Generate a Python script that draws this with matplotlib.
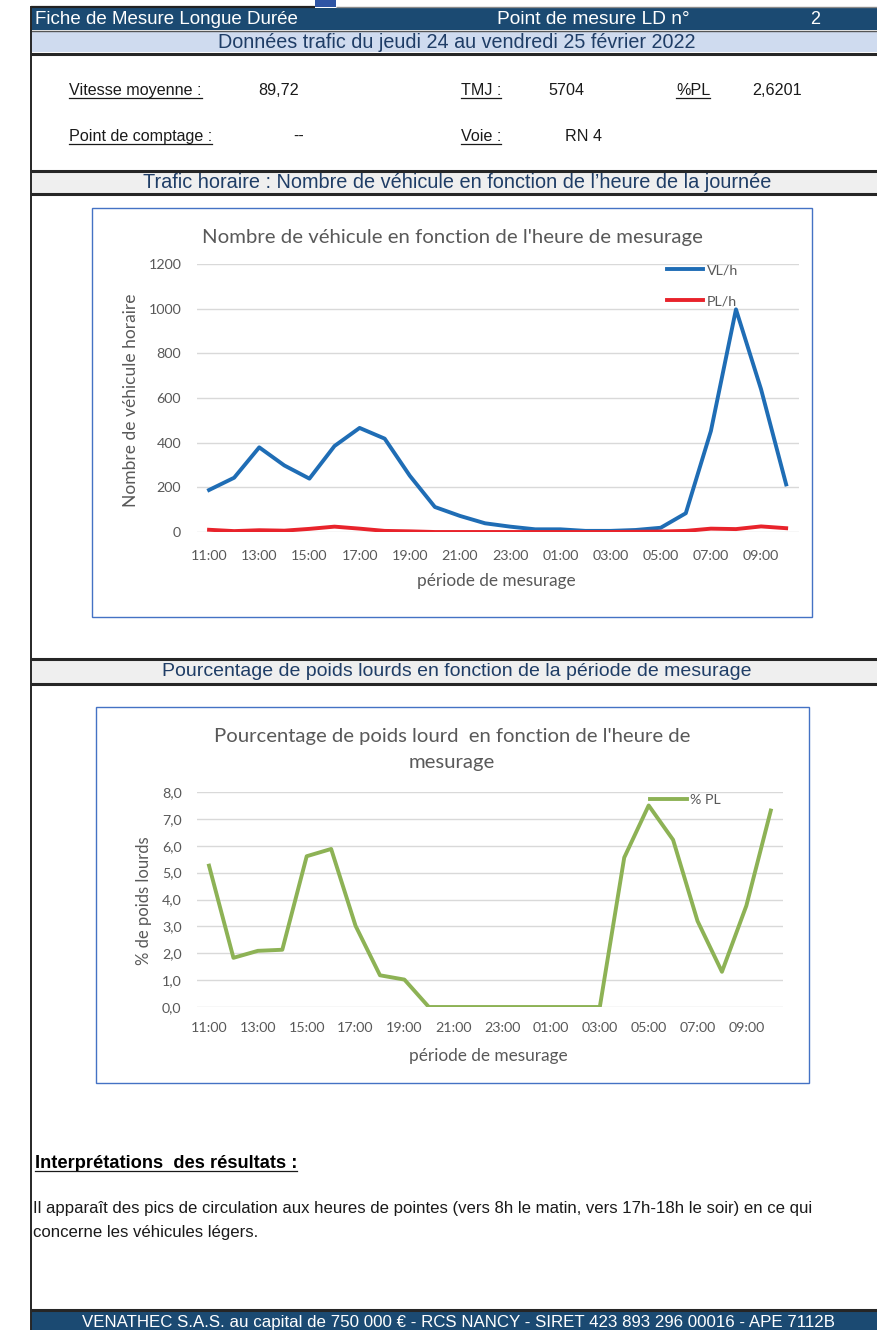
import matplotlib
matplotlib.use("Agg")
import matplotlib.pyplot as plt
from matplotlib.patches import Rectangle
from matplotlib.ticker import FuncFormatter, FixedLocator

# ---------------------------------------------------------------- data
hours = ["11:00", "12:00", "13:00", "14:00", "15:00", "16:00", "17:00", "18:00",
         "19:00", "20:00", "21:00", "22:00", "23:00", "00:00", "01:00", "02:00",
         "03:00", "04:00", "05:00", "06:00", "07:00", "08:00", "09:00", "10:00"]
vl_per_hour = [188, 243, 379, 298, 239, 385, 466, 418, 252, 112, 72, 39,
               24, 12, 12, 5, 5, 9, 19, 84, 452, 997, 639, 213]
pl_per_hour = [10, 4, 8, 6, 14, 24, 15, 5, 3, 0, 0, 0,
               0, 0, 0, 0, 0, 1, 2, 5, 15, 13, 25, 17]
pct_pl = [5.26, 1.83, 2.09, 2.13, 5.61, 5.88, 3.02, 1.18, 1.02, 0.0, 0.0, 0.0,
          0.0, 0.0, 0.0, 0.0, 0.0, 5.56, 7.50, 6.22, 3.20, 1.31, 3.77, 7.31]
vl_ticks = [0, 200, 400, 600, 800, 1000, 1200]
pct_ticks = [0, 1, 2, 3, 4, 5, 6, 7, 8]

info_rows = [
    ("Vitesse moyenne :", "89,72", "TMJ :", "5704", "%PL", "2,6201"),
    ("Point de comptage :", "--", "Voie :", "RN 4", None, None),
]

# ---------------------------------------------------------------- page
W, H = 877, 1330
fig = plt.figure(figsize=(W / 100, H / 100), dpi=100)
fig.patch.set_facecolor("white")
bg = fig.add_axes([0, 0, 1, 1])
bg.set_xlim(0, W)
bg.set_ylim(H, 0)
bg.axis("off")

PAGE_FONT = ["Liberation Sans", "DejaVu Sans"]
CHART_FONT = ["Lato", "DejaVu Sans"]
DARK_BLUE = "#1B4A72"
TITLE_BLUE = "#1F3D66"
GREY_TXT = "#595959"
LEFT = 31

fitted = []   # (text, target width in px, texts sharing the resulting size)


def band(y0, y1, color, x0=LEFT, x1=W):
    bg.add_patch(Rectangle((x0, y0), x1 - x0, y1 - y0, facecolor=color,
                           edgecolor="none", zorder=1))


def hline(y, lw, color="#262626", x0=LEFT, x1=W):
    bg.plot([x0, x1], [y, y], color=color, lw=lw, solid_capstyle="butt", zorder=2)


def page_text(x, y, s, width=None, **kw):
    opts = dict(fontsize=12, family=PAGE_FONT, zorder=3, color="#1a1a1a")
    opts.update(kw)
    t = bg.text(x, y, s, **opts)
    if width:
        fitted.append((t, width, []))
    return t


# top edge
hline(6.5, 1.6, "#222222", LEFT, 315)
band(0, 7, "#2F55A4", 315, 336)
hline(6.5, 1.0, "#8A8A8A", 336, W)

# header bars
band(8, 30, DARK_BLUE)
page_text(35, 20, "Fiche de Mesure Longue Durée", 265, color="white",
          va="center", ha="left")
page_text(497, 20, "Point de mesure LD n°", 193, color="white",
          va="center", ha="left")
page_text(815, 20, "2", color="white", fontsize=13, va="center", ha="center")
band(31, 52, "#CFDBEF")
hline(30.5, 1.0, "#555555")
page_text(457, 42, "Données trafic du jeudi 24 au vendredi 25 février 2022",
          479, color=TITLE_BLUE, va="center", ha="center")
hline(53.5, 2.2)

# key figures
underlined = []
row_y = [90, 136]
value_x = {"89,72": 258, "--": 293, "5704": 548, "RN 4": 565, "2,6201": 752}
for (l1, v1, l2, v2, l3, v3), y in zip(info_rows, row_y):
    for x, s, ul in [(69, l1, True), (None, v1, False), (461, l2, True),
                     (None, v2, False), (676, l3, True), (None, v3, False)]:
        if s is None:
            continue
        if x is None:
            x = value_x[s]
        t = page_text(x, y + 5, s, fontsize=11.6, va="baseline", ha="left")
        if ul:
            underlined.append(t)


# section bars
def section(y_top, y_bot, title, width):
    hline(y_top, 2.2)
    band(y_top + 1, y_bot - 1, "#EFEFEF")
    hline(y_bot, 2.2)
    page_text(457, (y_top + y_bot) / 2 + 0.5, title, width, color=TITLE_BLUE,
              va="center", ha="center")


section(170.5, 194, "Trafic horaire : Nombre de véhicule en fonction de l’heure de la journée", 628)
section(659, 684, "Pourcentage de poids lourds en fonction de la période de mesurage", 588)

# chart frames
for (x0, y0, x1, y1) in [(92, 208, 812, 617), (96, 707, 809, 1083)]:
    bg.add_patch(Rectangle((x0, y0), x1 - x0, y1 - y0, facecolor="white",
                           edgecolor="#4472C4", lw=1.0, zorder=2))

# interpretation
t = page_text(35, 1168, "Interprétations  des résultats :", 261,
              weight="bold", va="baseline", ha="left", color="black")
underlined.append(t)
para1 = page_text(33, 1213, "Il apparaît des pics de circulation aux heures de pointes "
                  "(vers 8h le matin, vers 17h-18h le soir) en ce qui", 778,
                  va="baseline", ha="left")
para2 = page_text(33, 1237, "concerne les véhicules légers.",
                  va="baseline", ha="left")
fitted[-1][2].append(para2)

# footer
hline(1310, 2.2)
band(1311, 1330, DARK_BLUE)
page_text(458, 1323, "VENATHEC S.A.S. au capital de 750 000 € - RCS NANCY - "
          "SIRET 423 893 296 00016 - APE 7112B", 750, color="white",
          va="center", ha="center")

# left border of the sheet
bg.plot([LEFT, LEFT], [7, H], color="#262626", lw=1.4, zorder=4)


# ---------------------------------------------------------------- charts
def add_chart_axes(x0, x1, y_top, y_bot):
    return fig.add_axes([x0 / W, 1 - y_bot / H, (x1 - x0) / W, (y_bot - y_top) / H])


def style_axes(ax, yticks, yfmt):
    ax.set_facecolor("none")
    for s in ax.spines.values():
        s.set_visible(False)
    ax.set_xlim(-0.5, len(hours) - 0.5)
    ax.set_ylim(yticks[0], yticks[-1])
    ax.yaxis.set_major_locator(FixedLocator(yticks))
    ax.yaxis.set_major_formatter(FuncFormatter(yfmt))
    ax.grid(axis="y", color="#D9D9D9", lw=1.0, zorder=0)
    ax.set_axisbelow(True)
    ax.set_xticks(range(0, len(hours), 2))
    ax.set_xticklabels(hours[::2])
    ax.tick_params(length=0, labelsize=10.3, labelcolor=GREY_TXT)
    ax.tick_params(axis="y", pad=11)
    for lab in ax.get_xticklabels() + ax.get_yticklabels():
        lab.set_family(CHART_FONT)


def chart_text(x, y, s, width=None, **kw):
    opts = dict(fontsize=11, family=CHART_FONT, color=GREY_TXT, ha="center",
                va="center", zorder=3)
    opts.update(kw)
    t = bg.text(x, y, s, **opts)
    if width:
        fitted.append((t, width, []))
    return t


x = list(range(len(hours)))

# chart 1: hourly vehicles
ax1 = add_chart_axes(196.5, 798.7, 264, 532)
style_axes(ax1, vl_ticks, lambda v, p: f"{v:.0f}")
ax1.plot(x, vl_per_hour, color="#1F6DB5", lw=2.8, label="VL/h", zorder=3,
         solid_joinstyle="round")
ax1.plot(x, pl_per_hour, color="#E8232B", lw=2.8, label="PL/h", zorder=3,
         solid_joinstyle="round")
ax1.tick_params(axis="x", pad=13)
chart_text(452, 237, "Nombre de véhicule en fonction de l'heure de mesurage", 500)
chart_text(496, 581, "période de mesurage", 159)
chart_text(131, 400, "Nombre de véhicule horaire", None, rotation=90,
           fontsize=12.5)
ax1.legend(loc="upper left", bbox_to_anchor=(667 / W, 1 - 264 / H),
           bbox_transform=fig.transFigure, frameon=False, borderpad=0,
           borderaxespad=0, handlelength=2.5, handletextpad=0.3,
           labelspacing=1.35, prop={"family": CHART_FONT, "size": 10.3},
           labelcolor=GREY_TXT)

# chart 2: share of heavy vehicles
ax2 = add_chart_axes(196.8, 783.0, 792, 1007)
style_axes(ax2, pct_ticks, lambda v, p: f"{v:.1f}".replace(".", ","))
ax2.plot(x, pct_pl, color="#8DB255", lw=2.8, label="% PL", zorder=3,
         solid_joinstyle="round")
ax2.tick_params(axis="x", pad=11)
chart_text(452, 749.5, "Pourcentage de poids lourd  en fonction de l'heure de\nmesurage",
           fontsize=14.6, linespacing=1.65)
chart_text(488, 1056, "période de mesurage", 159)
chart_text(144, 901, "% de poids lourds", None, rotation=90, fontsize=12)
ax2.legend(loc="upper left", bbox_to_anchor=(650 / W, 1 - 794 / H),
           bbox_transform=fig.transFigure, frameon=False, borderpad=0,
           borderaxespad=0, handlelength=2.6, handletextpad=0.2,
           prop={"family": CHART_FONT, "size": 10.3}, labelcolor=GREY_TXT)

# scale the fitted texts to their column widths
fig.canvas.draw()
renderer = fig.canvas.get_renderer()
for t, width, followers in fitted:
    bb = t.get_window_extent(renderer)
    size = t.get_fontsize() * width / bb.width
    t.set_fontsize(size)
    for f in followers:
        f.set_fontsize(size)

# underline the field labels
fig.canvas.draw()
inv = bg.transData.inverted()
for t in underlined:
    bb = t.get_window_extent(renderer)
    (xa, _), (xb, _) = inv.transform([(bb.x0, bb.y0), (bb.x1, bb.y0)])
    yb = t.get_position()[1] + 3
    bg.plot([xa, xb], [yb, yb], color="#1a1a1a", lw=0.9, zorder=3)

fig.savefig("out.png", dpi=100, facecolor="white")
